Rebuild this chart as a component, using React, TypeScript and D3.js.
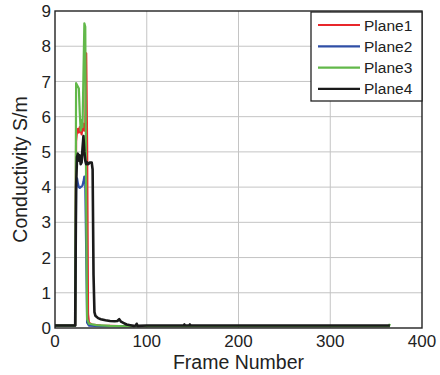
import * as d3 from "d3";
import React from "react";

// frame numbers and conductivity values
const plane1Frames = [0, 22, 23, 24, 25, 26, 27, 28, 29, 30, 31, 32, 33, 34, 35, 36, 37, 40, 50, 80, 365];
const plane1Values = [0.07, 0.07, 5.3, 5.6, 5.65, 5.55, 5.7, 5.6, 5.5, 5.7, 5.8, 5.6, 5.7, 7.8, 5.2, 0.4, 0.15, 0.1, 0.07, 0.05, 0.05];

const plane2Frames = [0, 22, 23, 24, 25, 26, 27, 28, 29, 30, 31, 32, 33, 34, 35, 37, 50, 365];
const plane2Values = [0.07, 0.07, 3.9, 4.25, 4.1, 4.0, 3.98, 4.0, 4.02, 4.05, 4.15, 4.3, 4.1, 2.2, 0.15, 0.07, 0.05, 0.05];

const plane3Frames = [0, 22, 23, 24, 25, 26, 27, 28, 29, 30, 31, 32, 33, 34, 35, 37, 45, 60, 80, 364, 365];
const plane3Values = [0.07, 0.07, 6.95, 6.9, 6.85, 6.8, 6.1, 5.6, 5.9, 5.7, 7.2, 8.65, 8.55, 3.5, 0.25, 0.12, 0.08, 0.06, 0.05, 0.05, 0.12];

const plane4Frames = [0, 22, 23, 24, 25, 26, 27, 28, 29, 30, 31, 32, 33, 34, 35, 36, 38, 40, 41, 42, 43, 44, 47, 50, 55, 60, 65, 68, 70, 72, 75, 78, 82, 86, 88, 89, 90, 100, 140, 141, 142, 146, 147, 148, 200, 365];
const plane4Values = [0.07, 0.07, 4.0, 4.85, 4.95, 4.75, 4.9, 4.65, 4.7, 5.1, 5.45, 5.0, 4.75, 4.65, 4.7, 4.65, 4.7, 4.7, 4.5, 1.5, 0.45, 0.35, 0.28, 0.25, 0.22, 0.2, 0.19, 0.2, 0.25, 0.18, 0.14, 0.1, 0.08, 0.06, 0.07, 0.12, 0.06, 0.07, 0.07, 0.1, 0.07, 0.07, 0.1, 0.07, 0.07, 0.07];

const seriesNames = ["Plane1", "Plane2", "Plane3", "Plane4"];
const seriesColors = ["#e8262b", "#2f4fa6", "#62b84a", "#1a1a1a"];
const xTicks = [0, 100, 200, 300, 400];
const yTicks = [0, 1, 2, 3, 4, 5, 6, 7, 8, 9];

const W = 440;
const H = 375;
const left = 55;
const right = 422;
const top = 11;
const bottom = 328;

export default function App() {
  const x = d3.scaleLinear().domain([0, 400]).range([left, right]);
  const y = d3.scaleLinear().domain([0, 9]).range([bottom, top]);

  const series = [
    { frames: plane1Frames, values: plane1Values },
    { frames: plane2Frames, values: plane2Values },
    { frames: plane3Frames, values: plane3Values },
    { frames: plane4Frames, values: plane4Values },
  ];

  const line = d3
    .line<number>()
    .x((d) => d)
    .y((d) => d);

  const pathFor = (frames: number[], values: number[]) => {
    const pts = frames.map((f, i) => [x(f), y(values[i])] as [number, number]);
    return d3.line()(pts) || "";
  };

  const font = "Arial, 'Liberation Sans', sans-serif";

  // legend
  const lg = { x: 311, y: 12, w: 111, h: 89 };

  return (
    <svg
      width={W}
      height={H}
      style={{ position: "absolute", left: 0, top: 0, background: "#fff" }}
      fontFamily={font}
    >
      <rect x={left} y={top} width={right - left} height={bottom - top} fill="#fff" />
      {/* grid */}
      {xTicks.slice(1, -1).map((t) => (
        <line key={"gx" + t} x1={x(t)} x2={x(t)} y1={top} y2={bottom} stroke="#c4c4c4" strokeWidth={1} />
      ))}
      {yTicks.slice(1, -1).map((t) => (
        <line key={"gy" + t} x1={left} x2={right} y1={y(t)} y2={y(t)} stroke="#c4c4c4" strokeWidth={1} />
      ))}

      {/* lines */}
      {series.map((s, i) => (
        <path
          key={seriesNames[i]}
          d={pathFor(s.frames, s.values)}
          fill="none"
          stroke={seriesColors[i]}
          strokeWidth={i === 3 ? 2.6 : 2.2}
          strokeLinejoin="round"
        />
      ))}

      {/* frame */}
      <rect x={left} y={top} width={right - left} height={bottom - top} fill="none" stroke="#222" strokeWidth={1.4} />

      {/* tick labels */}
      {xTicks.map((t) => (
        <text key={"xt" + t} x={x(t)} y={347} textAnchor="middle" fontSize={17} fill="#222">
          {t}
        </text>
      ))}
      {yTicks.map((t) => (
        <text key={"yt" + t} x={51} y={y(t)} dy="0.36em" textAnchor="end" fontSize={17} fill="#222">
          {t}
        </text>
      ))}

      {/* axis titles */}
      <text x={(left + right) / 2} y={369} textAnchor="middle" fontSize={19.5} fill="#222">
        Frame Number
      </text>
      <text
        transform={`translate(27,${(top + bottom) / 2}) rotate(-90)`}
        textAnchor="middle"
        fontSize={19.5}
        fill="#222"
      >
        Conductivity S/m
      </text>

      {/* legend */}
      <rect x={lg.x} y={lg.y} width={lg.w} height={lg.h} fill="#fff" stroke="#222" strokeWidth={1.3} />
      {seriesNames.map((n, i) => {
        const cy = 25 + i * 21.3;
        return (
          <g key={"lg" + n}>
            <line x1={318} x2={360} y1={cy} y2={cy} stroke={seriesColors[i]} strokeWidth={2.2} />
            <text x={364} y={cy} dy="0.36em" fontSize={15.5} fill="#222">
              {n}
            </text>
          </g>
        );
      })}
    </svg>
  );
}
